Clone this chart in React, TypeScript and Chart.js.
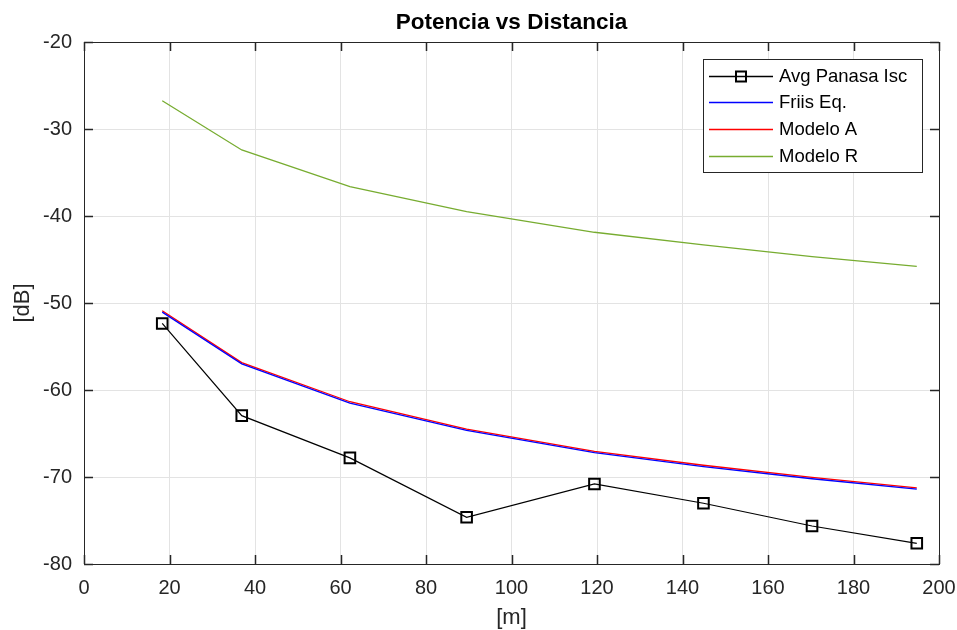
import React, { useEffect, useRef } from "react";
import { Chart, registerables } from "chart.js";

Chart.register(...registerables);

const distances = [18.3, 36.9, 62.2, 89.5, 119.4, 144.9, 170.3, 194.8];
const avgPanasaIsc = [-52.35, -62.95, -67.8, -74.63, -70.8, -73.02, -75.63, -77.62];
const friisEq = [-51.05, -57.0, -61.5, -64.65, -67.2, -68.8, -70.2, -71.4];
const modeloA = [-50.9, -56.85, -61.35, -64.5, -67.05, -68.65, -70.05, -71.25];
const modeloR = [-26.75, -32.41, -36.63, -39.5, -41.87, -43.33, -44.67, -45.78];

const xTicks = [0, 20, 40, 60, 80, 100, 120, 140, 160, 180, 200];
const yTicks = [-80, -70, -60, -50, -40, -30, -20];

const titleText = "Potencia vs Distancia";
const xLabel = "[m]";
const yLabel = "[dB]";

const seriesNames = ["Avg Panasa Isc", "Friis Eq.", "Modelo A", "Modelo R"];
const seriesColors = ["#000000", "#0000ff", "#ff0000", "#77ac30"];

const FONT = '"Liberation Sans", Arial, Helvetica, sans-serif';
const AXIS = "#262626";

const toPoints = (ys: number[]) => distances.map((x, i) => ({ x, y: ys[i] }));

const decorPlugin = {
  id: "decor",
  afterDraw(chart: any) {
    const { ctx, chartArea } = chart;
    const { left, right, top, bottom } = chartArea;
    const xs = chart.scales.x;
    const ys = chart.scales.y;
    ctx.save();
    // box
    ctx.strokeStyle = AXIS;
    ctx.lineWidth = 1;
    ctx.strokeRect(Math.round(left) + 0.5, Math.round(top) + 0.5, Math.round(right - left), Math.round(bottom - top));
    // inward ticks
    const tl = 9;
    ctx.lineWidth = 1.5;
    ctx.beginPath();
    xTicks.forEach((t) => {
      const px = Math.round(xs.getPixelForValue(t)) + 0.5;
      ctx.moveTo(px, bottom);
      ctx.lineTo(px, bottom - tl);
      ctx.moveTo(px, top);
      ctx.lineTo(px, top + tl);
    });
    yTicks.forEach((t) => {
      const py = Math.round(ys.getPixelForValue(t)) + 0.5;
      ctx.moveTo(left, py);
      ctx.lineTo(left + tl, py);
      ctx.moveTo(right, py);
      ctx.lineTo(right - tl, py);
    });
    ctx.stroke();

    // title
    ctx.fillStyle = "#000000";
    ctx.font = `bold 22.5px ${FONT}`;
    ctx.textAlign = "center";
    ctx.textBaseline = "middle";
    ctx.fillText(titleText, (left + right) / 2, 22.5);

    // axis labels
    ctx.fillStyle = AXIS;
    ctx.font = `22px ${FONT}`;
    ctx.fillText(xLabel, (left + right) / 2, 618);
    ctx.save();
    ctx.translate(23, (top + bottom) / 2);
    ctx.rotate(-Math.PI / 2);
    ctx.fillText(yLabel, 0, 0);
    ctx.restore();

    // legend
    const lx = 703, ly = 59, lw = 219, lh = 113;
    ctx.fillStyle = "#ffffff";
    ctx.fillRect(lx, ly, lw, lh);
    ctx.strokeStyle = AXIS;
    ctx.lineWidth = 1;
    ctx.strokeRect(lx + 0.5, ly + 0.5, lw, lh);
    const rows = [75.7, 102.3, 129, 155.7];
    ctx.font = `18.5px ${FONT}`;
    ctx.textAlign = "left";
    ctx.textBaseline = "middle";
    seriesNames.forEach((name, i) => {
      const y = Math.round(rows[i]) + 0.5;
      ctx.strokeStyle = seriesColors[i];
      ctx.lineWidth = 1.3;
      ctx.beginPath();
      ctx.moveTo(709, y);
      ctx.lineTo(773, y);
      ctx.stroke();
      if (i === 0) {
        ctx.lineWidth = 2;
        ctx.strokeStyle = "#000000";
        ctx.strokeRect(736, y - 5, 10, 10);
      }
      ctx.fillStyle = "#000000";
      ctx.fillText(name, 779, rows[i] + 1);
    });
    ctx.restore();
  },
};

export default function App() {
  const ref = useRef<HTMLCanvasElement | null>(null);
  useEffect(() => {
    if (!ref.current) return;
    const chart = new Chart(ref.current, {
      type: "line",
      data: {
        datasets: [
          {
            label: seriesNames[0],
            data: toPoints(avgPanasaIsc),
            borderColor: seriesColors[0],
            borderWidth: 1.2,
            pointStyle: "rect",
            pointRadius: 7.5,
            pointBorderWidth: 2,
            pointBorderColor: "#000000",
            pointBackgroundColor: "rgba(0,0,0,0)",
            tension: 0,
          },
          {
            label: seriesNames[1],
            data: toPoints(friisEq),
            borderColor: seriesColors[1],
            borderWidth: 1.3,
            pointRadius: 0,
            tension: 0,
          },
          {
            label: seriesNames[2],
            data: toPoints(modeloA),
            borderColor: seriesColors[2],
            borderWidth: 1.3,
            pointRadius: 0,
            tension: 0,
          },
          {
            label: seriesNames[3],
            data: toPoints(modeloR),
            borderColor: seriesColors[3],
            borderWidth: 1.3,
            pointRadius: 0,
            tension: 0,
          },
        ],
      },
      options: {
        responsive: false,
        animation: false,
        layout: { padding: { top: 42, right: 18, left: 0, bottom: 0 } },
        plugins: {
          legend: { display: false },
          title: { display: false },
          tooltip: { enabled: false },
        },
        scales: {
          x: {
            type: "linear",
            min: 0,
            max: 200,
            afterBuildTicks: (s: any) => {
              s.ticks = xTicks.map((v) => ({ value: v }));
            },
            afterFit: (s: any) => {
              s.height = 66;
              s.paddingLeft = 0;
              s.paddingRight = 0;
            },
            grid: { color: "#e3e3e3", lineWidth: 1, drawTicks: false },
            border: { display: false },
            ticks: {
              padding: 12,
              color: AXIS,
              font: { family: FONT, size: 20 },
              maxRotation: 0,
              autoSkip: false,
            },
          },
          y: {
            type: "linear",
            min: -80,
            max: -20,
            afterBuildTicks: (s: any) => {
              s.ticks = yTicks.map((v) => ({ value: v }));
            },
            afterFit: (s: any) => {
              s.width = 84;
              s.paddingTop = 0;
              s.paddingBottom = 0;
            },
            grid: { color: "#e3e3e3", lineWidth: 1, drawTicks: false },
            border: { display: false },
            ticks: {
              padding: 12,
              color: AXIS,
              font: { family: FONT, size: 20 },
              autoSkip: false,
            },
          },
        },
      },
      plugins: [decorPlugin],
    });
    return () => chart.destroy();
  }, []);
  return (
    <div style={{ position: "fixed", left: 0, top: 0, width: 957, height: 630, background: "#ffffff" }}>
      <canvas ref={ref} width={957} height={630} style={{ display: "block", width: 957, height: 630 }} />
    </div>
  );
}
